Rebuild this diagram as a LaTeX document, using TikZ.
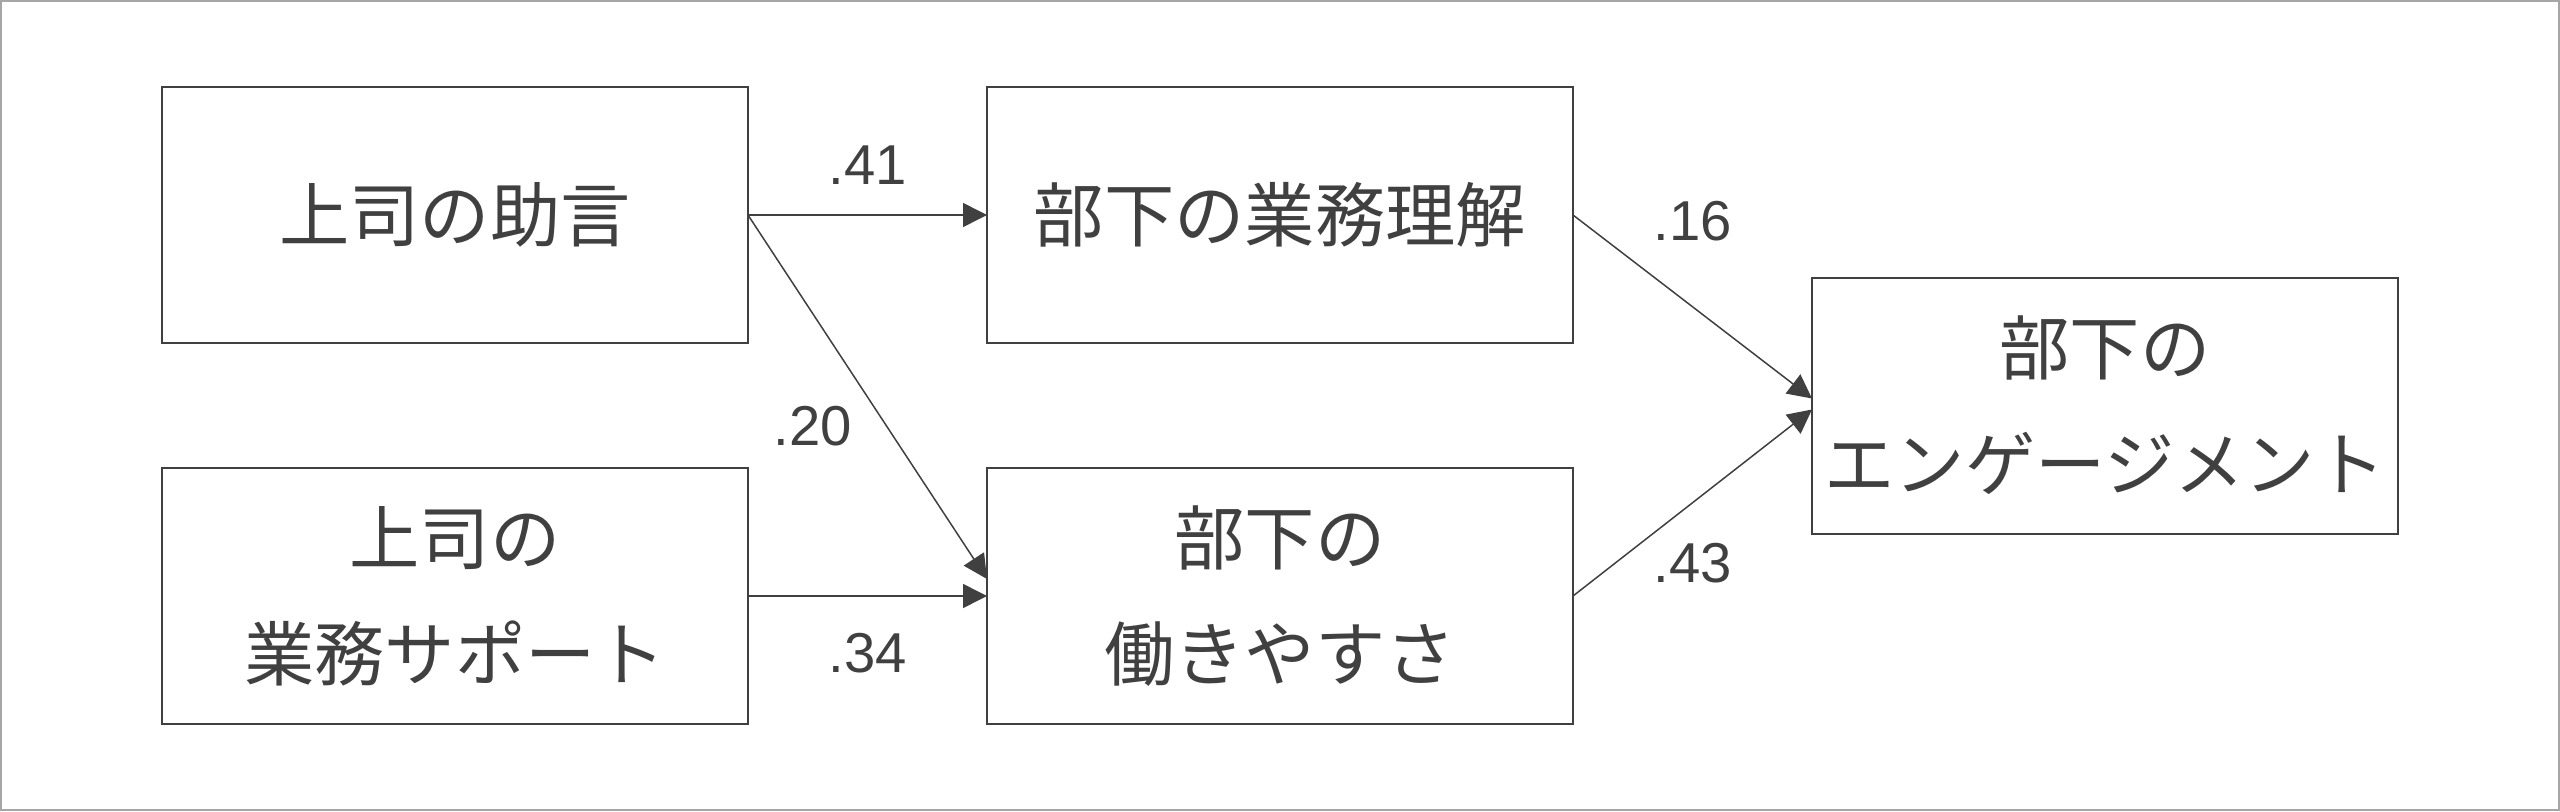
\documentclass[tikz,border=0pt]{standalone}
\usepackage{fontspec}
\setmainfont{Liberation Sans}
\newfontfamily\jpfont{Noto Sans CJK JP}
\usetikzlibrary{positioning,arrows.meta,calc}
\definecolor{inkgray}{HTML}{404040}
\definecolor{framegray}{HTML}{A6A6A6}

\begin{document}
\begin{tikzpicture}[-{Triangle[length=2.4mm,width=2.4mm]},auto,node distance=1.25cm,
                line width=0.015cm,
                var node/.style={draw=inkgray, line width=0.02cm, rectangle, minimum width=5.86cm,
                  minimum height=2.56cm, inner sep=0pt, outer sep=0pt, align=center, text=inkgray,
                  font=\jpfont\fontsize{20pt}{33pt}\selectfont},
                coef/.style={text=inkgray, font=\fontsize{16pt}{19pt}\selectfont, draw=none}]

  \useasboundingbox (0,0) rectangle (25.6,-8.11);
  \draw[-, framegray, line width=0.02cm] (0.01,-0.01) rectangle (25.59,-8.10);

  \node[var node] (advice) at (4.55,-2.15) {上司の助言};
  \node[var node] (support) [below=of advice] {上司の\\業務サポート};
  \node[var node] (understand) [right=2.39cm of advice] {部下の業務理解};
  \node[var node] (workease) [right=2.39cm of support] {部下の\\働きやすさ};
  \coordinate (mid) at ($(understand.east)!0.5!(workease.east)$);
  \node[var node] (engage) [right=2.39cm of mid] {部下の\\エンゲージメント};

  \path[every edge/.style={draw=inkgray}]
    (advice.east) edge node[coef, above=0.18cm] {.41} (understand.west)
    (advice.east) edge node[coef, pos=0.58, left=0.22cm] {.20} ([yshift=0.17cm]workease.west)
    (support.east) edge node[coef, below=0.25cm] {.34} (workease.west)
    (understand.east) edge node[coef, above=0.53cm] {.16} ([yshift=0.07cm]engage.west)
    (workease.east) edge node[coef, below=0.28cm] {.43} ([yshift=-0.04cm]engage.west);
\end{tikzpicture}
\end{document}
